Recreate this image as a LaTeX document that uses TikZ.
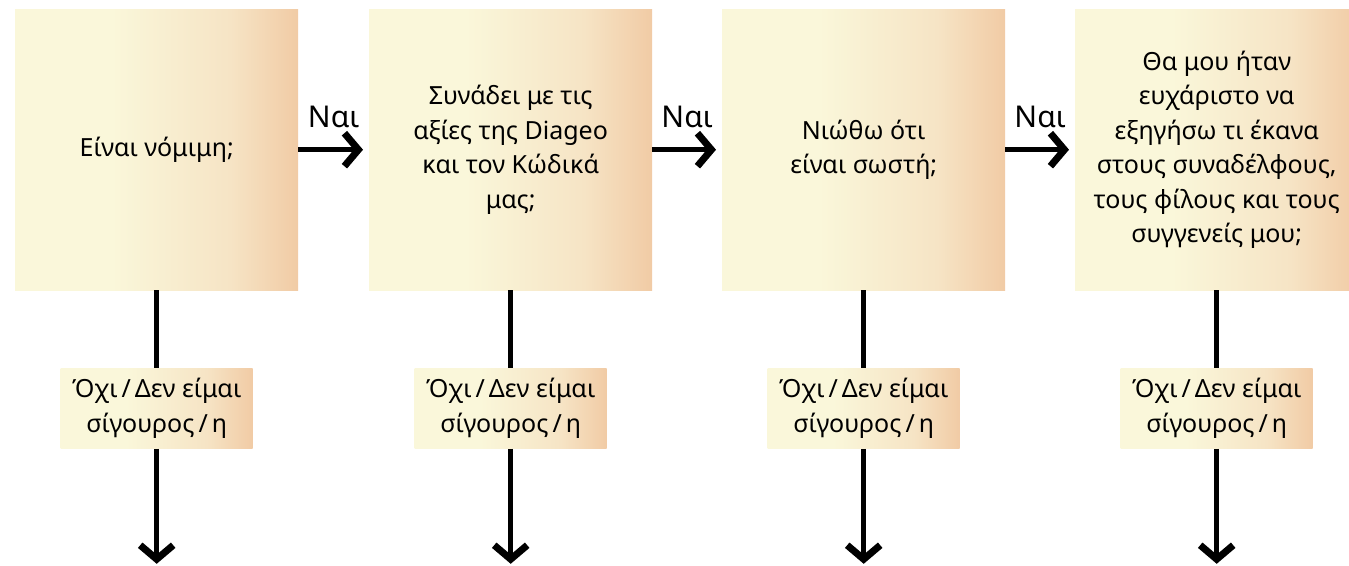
\documentclass[tikz,border=0pt]{standalone}
\usepackage{fontspec}
\setmainfont{Noto Sans}
\usetikzlibrary{arrows.meta,positioning}
\definecolor{cream}{HTML}{FAF7DA}
\definecolor{midpeach}{HTML}{F6E4C5}
\definecolor{peach}{HTML}{F1CBA5}
\pgfdeclarehorizontalshading{qshade}{100bp}{color(0bp)=(cream); color(25bp)=(cream); color(42bp)=(cream); color(63bp)=(midpeach); color(75bp)=(peach); color(100bp)=(peach)}
\tikzstyle{qbox}=[rectangle, shade, shading=qshade, minimum width=283pt, minimum height=281pt, inner sep=0pt, align=center, anchor=north west, font=\fontsize{25}{34.5}\selectfont]
\tikzstyle{nobox}=[rectangle, shade, shading=qshade, minimum width=192pt, minimum height=80pt, inner sep=0pt, align=center, font=\fontsize{25}{35}\selectfont]
\tikzstyle{yes}=[font=\fontsize{30}{32}\selectfont\bfseries, inner sep=0pt]
\tikzstyle{arr}=[line width=5pt, -{Straight Barb[length=14pt,width=33pt,line width=7pt]}]
\tikzstyle{stem}=[line width=5pt]
\newcommand{\wslash}{\kern4pt/\kern4pt}

\begin{document}
\begin{tikzpicture}[x=1pt,y=-1pt]
	\useasboundingbox (0,0) rectangle (1349,565);

	% questions
	\node[qbox](q1) at (15,9){Είναι νόμιμη;};
	\node[qbox](q2) at (369,9){Συνάδει με τις\\αξίες της Diageo\\και τον Κώδικά\\μας;};
	\node[qbox](q3) at (722,9){Νιώθω ότι\\είναι σωστή;};
	\node[qbox](q4) at (1075,9){Θα μου ήταν\\ευχάριστο να\\εξηγήσω τι έκανα\\στους συναδέλφους,\\τους φίλους και τους\\συγγενείς μου;};

	% yes arrows
	\draw[arr, shorten >=6pt] (q1.east) -- node[yes, above=19pt]{Ναι} (q2.west);
	\draw[arr, shorten >=6pt] (q2.east) -- node[yes, above=19pt]{Ναι} (q3.west);
	\draw[arr, shorten >=6pt] (q3.east) -- node[yes, above=19pt]{Ναι} (q4.west);

	% no branches
	\node[nobox, below=78pt of q1.south](n1){Όχι\wslash Δεν είμαι\\σίγουρος\wslash η};
	\node[nobox, below=78pt of q2.south](n2){Όχι\wslash Δεν είμαι\\σίγουρος\wslash η};
	\node[nobox, below=78pt of q3.south](n3){Όχι\wslash Δεν είμαι\\σίγουρος\wslash η};
	\node[nobox, below=78pt of q4.south](n4){Όχι\wslash Δεν είμαι\\σίγουρος\wslash η};
	\coordinate[below=115pt of n1.south](e1);
	\coordinate[below=115pt of n2.south](e2);
	\coordinate[below=115pt of n3.south](e3);
	\coordinate[below=115pt of n4.south](e4);

	\draw[stem] (q1.south) -- (n1.north);
	\draw[stem] (q2.south) -- (n2.north);
	\draw[stem] (q3.south) -- (n3.north);
	\draw[stem] (q4.south) -- (n4.north);
	\draw[arr] (n1.south) -- (e1);
	\draw[arr] (n2.south) -- (e2);
	\draw[arr] (n3.south) -- (e3);
	\draw[arr] (n4.south) -- (e4);

\end{tikzpicture}
\end{document}
